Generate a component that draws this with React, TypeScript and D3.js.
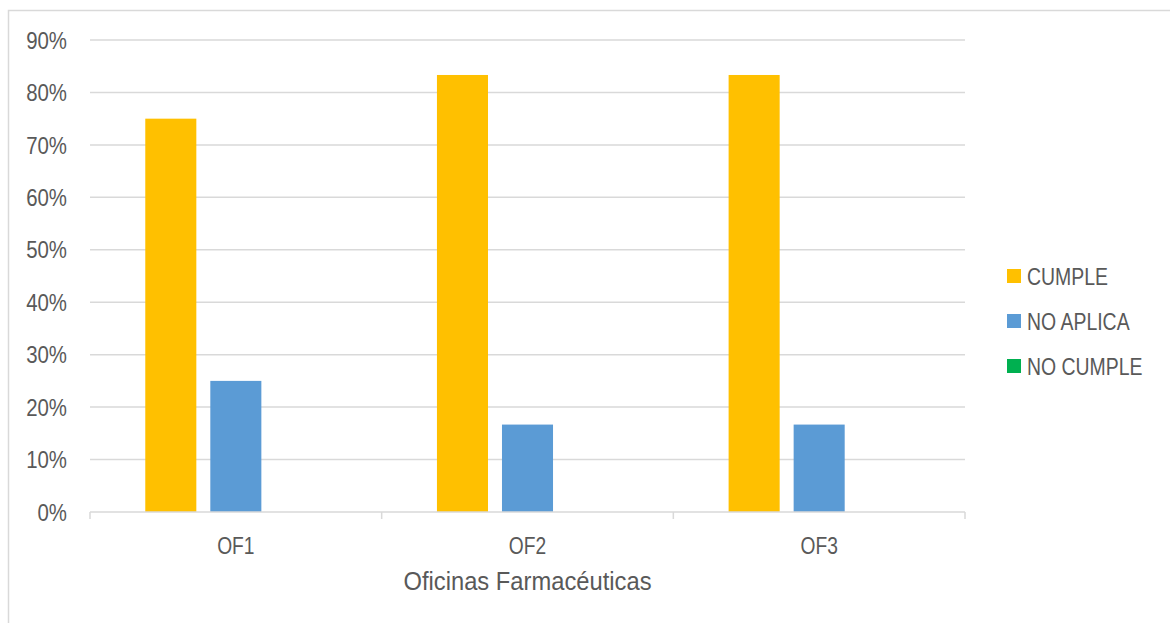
import React from "react";
import * as d3 from "d3";

const categories = ["OF1", "OF2", "OF3"];
const seriesNames = ["CUMPLE", "NO APLICA", "NO CUMPLE"];
const cumple = [0.75, 0.8333, 0.8333];
const noAplica = [0.25, 0.1667, 0.1667];
const noCumple = [0, 0, 0];
const yTicks = [0, 0.1, 0.2, 0.3, 0.4, 0.5, 0.6, 0.7, 0.8, 0.9];
const colors = ["#FFC000", "#5B9BD5", "#00B050"];
const axisTitle = "Oficinas Farmacéuticas";

const W = 1170;
const H = 623;
const FONT = "'Liberation Sans', Arial, sans-serif";
const TEXT = "#595959";
const GRID = "#D9D9D9";

function T(props: {
  x: number;
  y: number;
  sx: number;
  size: number;
  anchor?: string;
  dy?: string;
  children: React.ReactNode;
}) {
  return (
    <g transform={`translate(${props.x},${props.y}) scale(${props.sx},1)`}>
      <text
        x={0}
        y={0}
        dy={props.dy}
        textAnchor={props.anchor || "start"}
        fontFamily={FONT}
        fontSize={props.size}
        fill={TEXT}
      >
        {props.children}
      </text>
    </g>
  );
}

export default function App() {
  const series = [cumple, noAplica, noCumple];
  const left = 90, right = 965, top = 40, bottom = 512;
  const x = d3.scaleBand<string>().domain(categories).range([left, right]).paddingInner(0).paddingOuter(0);
  const inner = d3
    .scaleBand<string>()
    .domain(seriesNames)
    .range([0, x.bandwidth()])
    .paddingInner(0.215)
    .paddingOuter(0.85);
  const y = d3.scaleLinear().domain([0, 0.9]).range([bottom, top]);
  const boundaries = [...categories.map((c) => x(c) as number), right];

  return (
    <svg width={W} height={H} style={{ position: "absolute", left: 0, top: 0 }}>
      <rect x={0} y={0} width={W} height={H} fill="#fff" />
      <rect x={8.5} y={10.5} width={W + 10} height={H + 10} fill="#fff" stroke="#D9D9D9" strokeWidth={1.5} />
      {yTicks.map((t) => (
        <g key={t}>
          {t > 0 && <line x1={left} x2={right} y1={y(t)} y2={y(t)} stroke={GRID} strokeWidth={1.5} />}
          <T x={67} y={y(t)} dy="0.36em" anchor="end" size={24} sx={0.85}>
            {d3.format(".0%")(t)}
          </T>
        </g>
      ))}
      {categories.map((c, ci) =>
        series.map((s, si) =>
          s[ci] > 0 ? (
            <rect
              key={c + si}
              x={(x(c) as number) + (inner(seriesNames[si]) as number)}
              y={y(s[ci])}
              width={inner.bandwidth()}
              height={y(0) - y(s[ci])}
              fill={colors[si]}
            />
          ) : null
        )
      )}
      <line x1={left} x2={right} y1={bottom} y2={bottom} stroke={GRID} strokeWidth={1.5} />
      {boundaries.map((b, i) => (
        <line key={i} x1={b} x2={b} y1={bottom} y2={bottom + 7} stroke={GRID} strokeWidth={1.5} />
      ))}
      {categories.map((c) => (
        <T key={c} x={(x(c) as number) + x.bandwidth() / 2} y={554} anchor="middle" size={24} sx={0.8}>
          {c}
        </T>
      ))}
      <T x={(left + right) / 2} y={590} anchor="middle" size={25} sx={0.95}>
        {axisTitle}
      </T>
      {seriesNames.map((n, i) => (
        <g key={n} transform={`translate(1007, ${269 + i * 45})`}>
          <rect x={0} y={0} width={14} height={14} fill={colors[i]} />
          <T x={20} y={7} dy="0.36em" size={24} sx={0.81}>
            {n}
          </T>
        </g>
      ))}
    </svg>
  );
}
